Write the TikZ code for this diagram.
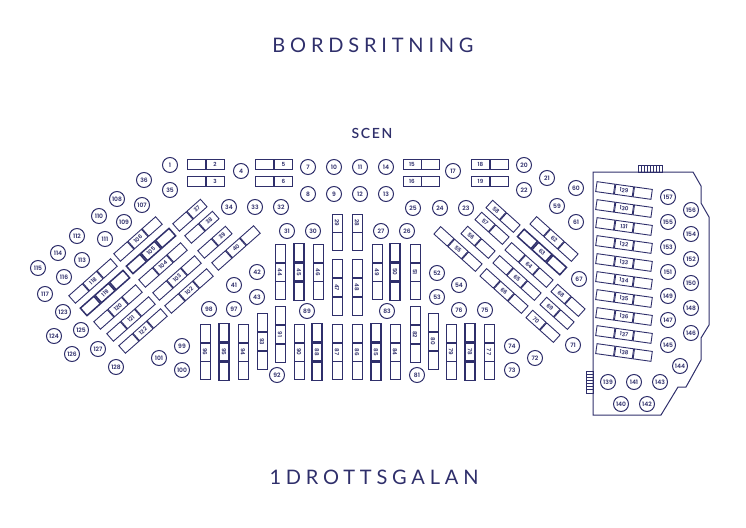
\documentclass[tikz,border=0pt]{standalone}
\usepackage{fontspec}
\setmainfont{Poppins}[BoldFont={Poppins SemiBold}]
\newfontfamily\headfont[LetterSpace=24]{Lato}
\newfontfamily\scenfont[LetterSpace=12]{Lato}[BoldFont={Lato Semibold}]
\definecolor{navy}{RGB}{47,47,107}
\begin{document}
\begin{tikzpicture}[
  x=1pt, y=-1pt,
  seat/.style={circle, draw=navy, line width=1pt, minimum size=15pt, inner sep=0pt, text=navy, font=\bfseries\fontsize{6}{6}\selectfont},
  part/.style={rectangle, draw=navy, minimum width=18pt, minimum height=10pt, inner sep=0pt, text=navy, font=\bfseries\fontsize{5.6}{6}\selectfont},
  head/.style={text=navy, inner sep=0pt, font=\headfont\fontsize{20}{24}\selectfont},
  wall/.style={draw=navy, line width=1pt},
  vent/.style={draw=navy, line width=0.7pt}
]
\useasboundingbox (0,0) rectangle (746,527);
% titles
\node[head] (title) at (373,45) {BORDSRITNING};
\node[head, font=\scenfont\bfseries\fontsize{14}{16}\selectfont] (scen) at (372,133.5) {SCEN};
\node[head] (event) at (374,477) {1DROTTSGALAN};
% round tables
\foreach \n/\x/\y in {
  1/170/165, 35/170/190, 36/144/180, 4/241/171, 108/117/199, 107/142/205, 110/99/216, 109/124/222,
  112/77/236, 111/105/239, 114/58/253, 113/82/260, 115/38/268, 116/64/277, 117/45/294, 123/63/312,
  125/81/330, 124/54/336, 127/98/349, 126/72/354, 128/116/367, 99/182/346, 101/159/358, 100/182/370,
  98/209/309, 97/234/309, 41/234/285, 42/257/272, 43/257/297, 34/229/207, 33/255/207, 32/281/207,
  31/287/231, 30/313/231, 27/381/231, 26/407/231, 7/308/167, 10/334/167, 11/360/167, 14/386/167,
  8/308/194, 9/334/194, 12/360/194, 13/386/194, 25/413/208, 24/440/208, 23/466/208, 17/453/171,
  20/524/165, 21/547/178, 22/524/190, 60/576/188, 59/557/206, 61/576/222, 52/437/273, 53/437/297,
  54/459/285, 76/459/310, 75/485/310, 67/579/279, 71/573/345, 74/512/346, 72/535/358, 73/512/370,
  81/417/375, 89/307/311, 83/387/311, 92/277/375,
  157/668/197, 156/691/210, 155/668/222, 154/691/234, 153/668/247, 152/691/259, 151/668/272, 150/691/283,
  149/668/296, 148/691/308, 147/668/320, 146/691/333, 145/668/345, 144/680/366, 143/660/382, 141/634/382,
  139/608/382, 140/621/404, 142/647/404}
  \node[seat] (c\n) at (\x,\y) {\n};
% long tables: number in the middle part
\foreach \n/\x/\y/\a/\w in {
  96/205/352/-90/0.9, 95/224/352/-90/1.5, 94/243/352/-90/0.9, 93/262/341.5/-90/0.9, 91/280/334.5/-90/0.9,
  90/299/352/-90/0.9, 88/317/352/-90/1.5, 87/337/352/-90/0.9, 86/357/352/-90/0.9, 85/376/352/-90/1.5,
  84/395/352/-90/0.9, 82/415/334.5/-90/0.9, 80/433/341.5/-90/0.9, 79/451/352/-90/0.9, 78/470/352/-90/1.5,
  77/489/352/-90/0.9, 44/280/272/-90/0.9, 45/299/272/-90/1.5, 46/318/272/-90/0.9, 47/337/287.5/-90/0.9,
  48/357/287.5/-90/0.9, 49/377/272/-90/0.9, 50/395/272/-90/1.5, 51/415/272/-90/0.9,
  118/93/281/41.5/0.9, 119/105/293/41.5/1.5, 120/118/307/41.5/0.9, 121/131/319/41.5/0.9, 122/143/331/41.5/0.9,
  106/138/239/41.5/0.9, 105/151/251/41.5/1.5, 104/163/265/41.5/0.9, 103/177/278/41.5/0.9, 102/189/291/41.5/0.9,
  40/236/248/41.5/0.9, 55/458/249/-42/0.9, 62/554/239/-42/0.9, 63/542/252/-42/1.5, 64/529/265/-42/0.9,
  65/517/278/-42/0.9, 66/504/291/-42/0.9,
  129/624/190.5/-8/0.9, 130/624/208.5/-8/0.9, 131/624/226.5/-8/0.9, 132/624/244.5/-8/0.9, 133/624/262.5/-8/0.9,
  134/624/280.5/-8/0.9, 135/624/298.5/-8/0.9, 136/624/316.5/-8/0.9, 137/624/334.5/-8/0.9, 138/624/352.5/-8/0.9}
{
  \node[part, rotate=\a, line width=\w pt] (t\n) at (\x,\y) {\n};
  \node[part, rotate=\a, line width=\w pt, anchor=east] (t\n l) at (t\n.west) {};
  \node[part, rotate=\a, line width=\w pt, anchor=west] (t\n r) at (t\n.east) {};
}
% short tables: number in one part, empty part beside it
\foreach \n/\x/\y/\a/\p/\q in {
  2/215/164/0/west/east, 3/215/181/0/west/east, 5/283.5/164/0/west/east, 6/283.5/181/0/west/east,
  15/412/164/0/east/west, 16/412/181/0/east/west, 18/480.5/164/0/east/west, 19/480.5/181/0/east/west,
  29/337/223/-90/east/west, 28/357/223/-90/east/west,
  37/197/209/41.5/west/east, 38/209/221/41.5/west/east, 39/222/236/41.5/west/east,
  56/471/236/-42/east/west, 57/485/222/-42/east/west, 58/496/210/-42/east/west,
  68/561/294/-42/east/west, 69/550/307/-42/east/west, 70/536/320/-42/east/west}
{
  \node[part, rotate=\a, line width=0.9pt] (t\n) at (\x,\y) {\n};
  \node[part, rotate=\a, line width=0.9pt, anchor=\q] (t\n e) at (t\n.\p) {};
}
% lounge outline
\draw[wall] (593,172) -- (693,172) -- (701,186) -- (701,203) -- (709,217) -- (709,325) -- (701,338)
  -- (701,360) -- (686,387) -- (678,387) -- (661,415) -- (593,415) -- cycle;
\draw[vent] (638,165) rectangle (662,172);
\foreach \i in {1,...,7} \draw[vent] (638+3*\i,165) -- (638+3*\i,172);
\draw[vent] (586,371) rectangle (593,393);
\foreach \i in {1,...,6} \draw[vent] (586,371+3.14*\i) -- (593,371+3.14*\i);
\end{tikzpicture}
\end{document}
